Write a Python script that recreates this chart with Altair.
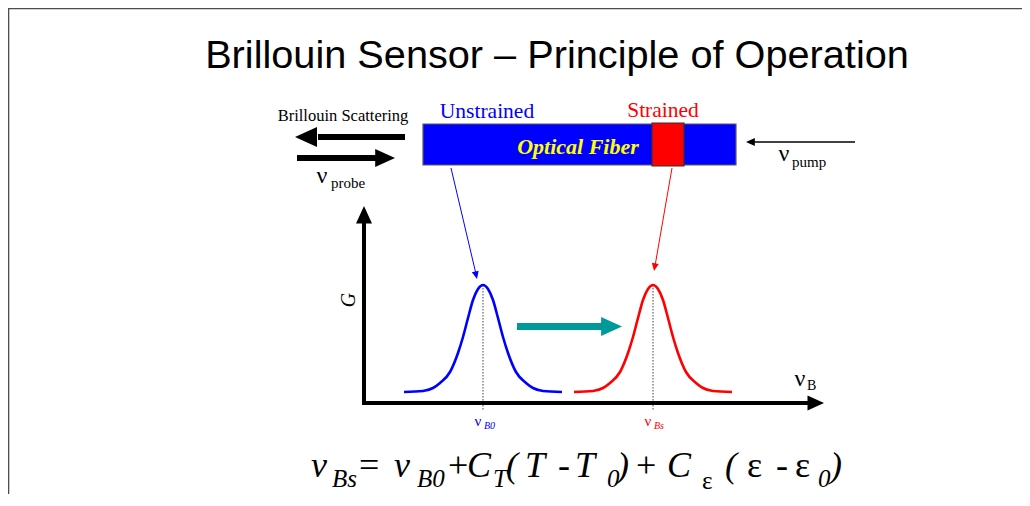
import altair as alt
import pandas as pd

W, H = 1014, 486
SERIF = "Liberation Serif"
SANS = "Liberation Sans"

# ---- diagram data (page pixel coordinates) ----
border = [  # x1, y1, x2, y2
    (8, 8.5, 1022, 8.5),
    (8.5, 8, 8.5, 494),
]
rects = [  # x1, y1, x2, y2, fill, stroke
    (423, 124, 736, 165, "#0000ff", "#5a5a5a"),
    (652, 123, 684, 166, "#ff0000", "#333333"),
]
shafts = [  # x1, y1, x2, y2, width, color
    (318, 137, 405, 137, 6, "#000000"),
    (297, 158, 376, 158, 6, "#000000"),
    (855, 142, 752, 142, 1.3, "#000000"),
    (364, 405, 364, 220, 4, "#000000"),
    (362, 403, 810, 403, 4, "#000000"),
    (517, 326.5, 604, 326.5, 7, "#009999"),
    (451, 168, 476, 274, 1, "#0000ff"),
    (672, 168, 655, 266, 1, "#ff0000"),
]
heads = [  # tip x, tip y, angle, size, color
    (295, 137, 270, 400, "#000000"),
    (395, 158, 90, 324, "#000000"),
    (746, 142, 270, 64, "#000000"),
    (364, 206, 0, 256, "#000000"),
    (824, 403, 90, 225, "#000000"),
    (622, 326.5, 90, 361, "#009999"),
    (477, 279, 166.8, 49, "#0000ff"),
    (654, 271, 189.9, 49, "#ff0000"),
]
dotted = [  # x, y1, y2, color
    (483, 285, 410, "#444444"),
    (653, 285, 410, "#444444"),
]
# gain curve: offset from peak (px) and height above baseline (px)
curve_dx = [-79, -60, -50, -43, -33, -25, -20, -15, -10, -5, 0, 5, 10, 15, 20, 25, 33, 43, 50, 60, 79]
curve_h = [0, 1, 4, 9, 20, 39, 55, 74, 92, 103, 107, 103, 92, 74, 55, 39, 20, 9, 4, 1, 0]
curves = [  # name, peak x, baseline y, color
    ("Unstrained", 483, 392, "#0000ff"),
    ("Strained", 653, 392, "#ff0000"),
]

texts_normal = [  # x, y(baseline), text, size, color, align
    (343, 121, "Brillouin Scattering", 16.5, "#000000", "center"),
    (487, 118, "Unstrained", 21.5, "#0000ff", "center"),
    (663, 117, "Strained", 21.5, "#ff0000", "center"),
    (322, 183, "ν", 24, "#000000", "center"),
    (331, 188, "probe", 15, "#000000", "left"),
    (784, 161, "ν", 24, "#000000", "center"),
    (792, 167, "pump", 15, "#000000", "left"),
    (800, 386, "ν", 24, "#000000", "center"),
    (807, 390, "B", 14, "#000000", "left"),
    (478, 426, "ν", 15, "#0000ff", "center"),
    (648, 426, "ν", 15, "#ff0000", "center"),
    # formula, upright parts
    (359, 477, "=", 36, "#000000", "left"),
    (448, 477, "+", 36, "#000000", "left"),
    (558, 477, "-", 36, "#000000", "left"),
    (636, 477, "+", 36, "#000000", "left"),
    (702, 489, "ε", 25, "#000000", "left"),
    (747, 477, "ε", 36, "#000000", "left"),
    (776, 477, "-", 36, "#000000", "left"),
    (795, 477, "ε", 36, "#000000", "left"),
]
texts_italic = [
    (484, 429, "B0", 10, "#0000ff", "left"),
    (654, 429, "Bs", 10, "#ff0000", "left"),
    # formula, italic parts
    (311, 477, "ν", 36, "#000000", "left"),
    (332, 487, "Bs", 25, "#000000", "left"),
    (394, 477, "ν", 36, "#000000", "left"),
    (417, 487, "B0", 25, "#000000", "left"),
    (467, 477, "C", 36, "#000000", "left"),
    (493, 487, "T", 25, "#000000", "left"),
    (506, 477, "(", 36, "#000000", "left"),
    (525, 477, "T", 36, "#000000", "left"),
    (575, 477, "T", 36, "#000000", "left"),
    (607, 487, "0", 25, "#000000", "left"),
    (617, 477, ")", 36, "#000000", "left"),
    (667, 477, "C", 36, "#000000", "left"),
    (725, 477, "(", 36, "#000000", "left"),
    (818, 487, "0", 25, "#000000", "left"),
    (830, 477, ")", 36, "#000000", "left"),
]
texts_bolditalic = [
    (578, 154, "Optical Fiber", 22, "#ffff00", "center"),
]
axis_label = [(355, 300, "G", 20, "#000000", "center")]
title = [(557, 68, "Brillouin Sensor – Principle of Operation", 39.7, "#000000", "center")]

# ---- scales ----
xs = alt.Scale(domain=[8, 8 + W], nice=False, zero=False)
ys = alt.Scale(domain=[8, 8 + H], nice=False, zero=False, reverse=True)


def X(f):
    return alt.X(f, type="quantitative", scale=xs, axis=None)


def Y(f):
    return alt.Y(f, type="quantitative", scale=ys, axis=None)


def seg_df(rows):
    return pd.DataFrame(rows, columns=["x1", "y1", "x2", "y2"])


layers = []

# border lines
layers.append(
    alt.Chart(seg_df(border)).mark_rule(color="#4d4d4d", strokeWidth=1.6).encode(
        x=X("x1"), y=Y("y1"), x2="x2", y2="y2"
    )
)

# rectangles
rdf = pd.DataFrame(rects, columns=["x1", "y1", "x2", "y2", "fill", "stroke"])
layers.append(
    alt.Chart(rdf).mark_rect(strokeWidth=1.2).encode(
        x=X("x1"), y=Y("y1"), x2="x2", y2="y2",
        fill=alt.Fill("fill:N", scale=None),
        stroke=alt.Stroke("stroke:N", scale=None),
    )
)

# dotted peak markers
ddf = pd.DataFrame(dotted, columns=["x", "y1", "y2", "color"])
layers.append(
    alt.Chart(ddf).mark_rule(strokeWidth=1, strokeDash=[1.5, 1.5]).encode(
        x=X("x"), y=Y("y1"), y2="y2", color=alt.Color("color:N", scale=None)
    )
)

# gain curves
rows = []
for name, px, by, col in curves:
    for i, (dx, h) in enumerate(zip(curve_dx, curve_h)):
        rows.append({"curve": name, "i": i, "x": px + dx, "y": by - h, "color": col})
cdf = pd.DataFrame(rows)
layers.append(
    alt.Chart(cdf).mark_line(strokeWidth=2.6, interpolate="monotone").encode(
        x=X("x"), y=Y("y"), detail="curve:N", order="i:Q",
        color=alt.Color("color:N", scale=None),
    )
)

# arrow shafts
sdf = pd.DataFrame(shafts, columns=["x1", "y1", "x2", "y2", "w", "color"])
layers.append(
    alt.Chart(sdf).mark_rule().encode(
        x=X("x1"), y=Y("y1"), x2="x2", y2="y2",
        strokeWidth=alt.StrokeWidth("w:Q", scale=None),
        color=alt.Color("color:N", scale=None),
    )
)

# arrow heads (tip at the origin of the symbol)
hdf = pd.DataFrame(heads, columns=["x", "y", "angle", "size", "color"])
layers.append(
    alt.Chart(hdf).mark_point(
        shape="M0,0 L-1,2.2 L1,2.2 Z", filled=True, opacity=1, strokeWidth=0
    ).encode(
        x=X("x"), y=Y("y"),
        angle=alt.Angle("angle:Q", scale=None),
        size=alt.Size("size:Q", scale=None),
        color=alt.Color("color:N", scale=None),
    )
)


def text_layer(rows, font, style="normal", weight="normal", angle=0):
    df = pd.DataFrame(rows, columns=["x", "y", "text", "size", "color", "align"])
    out = []
    for al in df["align"].unique():
        sub = df[df["align"] == al]
        out.append(
            alt.Chart(sub).mark_text(
                font=font, fontStyle=style, fontWeight=weight, align=al,
                baseline="alphabetic", angle=angle,
            ).encode(
                x=X("x"), y=Y("y"), text="text:N",
                size=alt.Size("size:Q", scale=None),
                color=alt.Color("color:N", scale=None),
            )
        )
    return out


layers += text_layer(texts_normal, SERIF)
layers += text_layer(texts_italic, SERIF, style="italic")
layers += text_layer(texts_bolditalic, SERIF, style="italic", weight="bold")
layers += text_layer(axis_label, SERIF, style="italic", angle=270)
layers += text_layer(title, SANS)

chart = alt.layer(*layers).properties(
    width=W, height=H, padding=0,
    autosize=alt.AutoSizeParams(type="none"),
).configure_view(strokeWidth=0).configure(background="#ffffff")

chart.save("out.html", embed_options={"renderer": "svg", "actions": False})
